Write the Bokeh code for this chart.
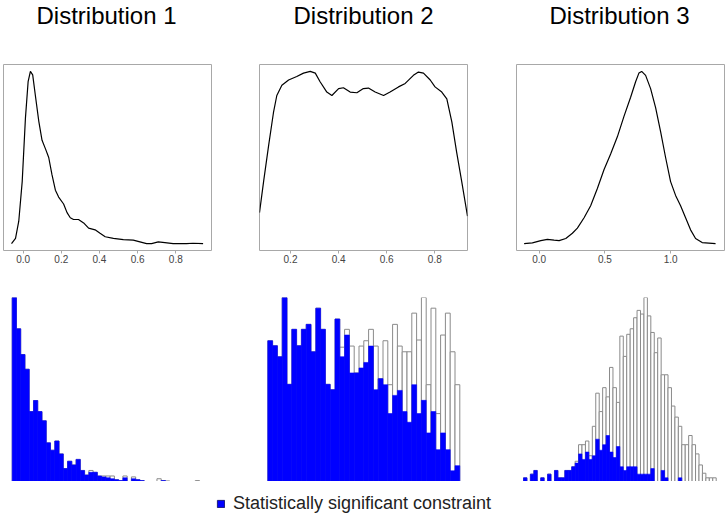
import numpy as np
from bokeh.plotting import figure
from bokeh.layouts import row, column
from bokeh.models import Range1d, FixedTicker, Legend, LegendItem, Label
from bokeh.embed import file_html
from bokeh.resources import INLINE

titles = ["Distribution 1", "Distribution 2", "Distribution 3"]
legend_label = "Statistically significant constraint"

# ---- density curves (relative density, peak = 1) ----
d1_x = [-0.061, -0.040, -0.023, -0.005, 0.012, 0.026, 0.038, 0.050, 0.064, 0.082, 0.099, 0.117,
        0.134, 0.151, 0.169, 0.186, 0.212, 0.230, 0.247, 0.264, 0.290, 0.317, 0.343, 0.377,
        0.403, 0.430, 0.473, 0.525, 0.577, 0.612, 0.647, 0.673, 0.708, 0.743, 0.786, 0.856,
        0.890, 0.943]
d1_y = [0.0, 0.03, 0.13, 0.36, 0.73, 0.94, 1.0, 0.98, 0.86, 0.71, 0.60, 0.55, 0.50, 0.40, 0.31,
        0.27, 0.23, 0.18, 0.15, 0.14, 0.14, 0.12, 0.09, 0.08, 0.06, 0.04, 0.03, 0.023, 0.02,
        0.01, 0.0, 0.0, 0.01, 0.006, 0.0, 0.0, 0.002, 0.0]

d2_x = [0.071, 0.088, 0.109, 0.129, 0.143, 0.164, 0.192, 0.226, 0.254, 0.282, 0.303, 0.323,
        0.351, 0.372, 0.400, 0.420, 0.448, 0.476, 0.503, 0.524, 0.552, 0.587, 0.614, 0.649,
        0.677, 0.711, 0.732, 0.753, 0.781, 0.801, 0.829, 0.850, 0.871, 0.891, 0.912, 0.936]
d2_y = [0.18, 0.36, 0.57, 0.76, 0.86, 0.92, 0.95, 0.97, 0.99, 1.0, 0.99, 0.94, 0.88, 0.86, 0.90,
        0.905, 0.88, 0.876, 0.90, 0.903, 0.88, 0.86, 0.88, 0.91, 0.93, 0.977, 0.996, 0.99, 0.95,
        0.91, 0.88, 0.84, 0.705, 0.53, 0.36, 0.16]

d3_x = [-0.114, -0.051, 0.013, 0.063, 0.114, 0.152, 0.203, 0.253, 0.291, 0.342, 0.392, 0.443,
        0.494, 0.544, 0.595, 0.646, 0.696, 0.734, 0.759, 0.780, 0.810, 0.848, 0.886, 0.924,
        0.962, 1.000, 1.038, 1.076, 1.114, 1.152, 1.190, 1.240, 1.342]
d3_y = [0.0, 0.004, 0.017, 0.025, 0.02, 0.017, 0.03, 0.06, 0.09, 0.15, 0.22, 0.32, 0.43, 0.52,
        0.62, 0.74, 0.85, 0.94, 0.99, 1.0, 0.977, 0.90, 0.79, 0.65, 0.50, 0.36, 0.28, 0.22,
        0.15, 0.08, 0.03, 0.006, 0.0]

d1_xlim = (-0.103, 0.987)
d2_xlim = (0.071, 0.936)
d3_xlim = (-0.172, 1.41)

ticks1 = [0.0, 0.2, 0.4, 0.6, 0.8]
ticks2 = [0.2, 0.4, 0.6, 0.8]
ticks3 = [0.0, 0.5, 1.0]
tick_labels1 = ["0.0", "0.2", "0.4", "0.6", "0.8"]
tick_labels2 = ["0.2", "0.4", "0.6", "0.8"]
tick_labels3 = ["0.0", "0.5", "1.0"]

# ---- histograms: all constraints (total) and significant ones ----
h1_start, h1_width = 0.0, 0.02
h1_total = [100, 83, 69, 61, 38, 44, 38, 33, 21, 17, 22, 15, 7, 11, 9, 12, 6, 3.5, 6, 5, 3, 3, 3, 3,
            1, 0.5, 3, 0, 2.5, 1, 0.5, 0, 0, 0, 1.5, 0.5, 0.3, 0, 0, 0, 0, 0, 0, 0.5, 0]
h1_sig = [100, 83, 69, 61, 38, 44, 38, 33, 21, 17, 22, 15, 7, 11, 9, 12, 6, 3.5, 5, 5, 3, 2.5, 2, 1.5,
          1, 0.5, 2, 0, 1.5, 1, 0.5, 0, 0, 0, 0, 0.5, 0, 0, 0, 0, 0, 0, 0, 0, 0]

h2_start, h2_width = 0.1, 0.02
h2_total = [76.5, 73.8, 67.8, 100, 52.8, 82.7, 73.8, 82.7, 85.4, 70.5, 94.2, 82.7, 52.8, 49.9,
            88.3, 73.0, 82.7, 73.6, 59.0, 73.6, 76.5, 82.7, 73.6, 55.9, 76.5, 52.6, 85.4, 73.6,
            70.5, 70.5, 91.5, 76.9, 100, 52.6, 94.2, 36.9, 79.6, 91.5, 70.5, 52.6]
h2_sig = [76.5, 73.8, 67.8, 100, 52.8, 82.7, 73.8, 82.7, 85.4, 70.5, 94.2, 82.7, 52.8, 49.9,
          88.3, 67.8, 79.6, 59.0, 59.0, 61.7, 64.7, 73.6, 49.9, 55.9, 52.6, 36.9, 46.8, 49.5,
          38.0, 32.2, 52.6, 36.9, 44.1, 26.4, 38.0, 17.3, 26.4, 17.3, 5.8, 8.6]

h3_start, h3_width = -0.1, 0.025
h3_total = [2, 0, 4, 6, 0, 2, 0, 4, 0, 6, 2, 2, 6, 6, 8, 11, 20, 20, 22, 14, 30, 48, 38, 51, 46,
            62, 51, 43, 79, 68, 80, 83, 89, 93, 91, 100, 90, 81, 70, 78, 58, 58, 51, 41, 35, 30,
            20, 20, 25, 20, 15, 9, 4.5, 2, 2, 2]
h3_sig = [2, 0, 4, 6, 0, 2, 0, 4, 0, 6, 2, 2, 6, 6, 8, 10, 15, 12, 16, 12, 14, 23, 17, 20, 25,
          16, 13, 19, 8, 6, 8, 8, 8, 4, 4, 4, 4, 7, 0, 0, 6, 2, 0, 0, 0, 2, 0, 0, 0, 0, 0, 0, 0,
          0, 0, 0]

BLUE = "#0000ff"
FONT = "Liberation Sans"
FW = 208  # frame width of each column


def title_fig(text, bl, br, dx):
    p = figure(frame_width=FW, height=30, min_border_left=bl, min_border_right=br,
               min_border_top=0, min_border_bottom=0,
               x_range=Range1d(0, 1), y_range=Range1d(0, 1),
               x_axis_location=None, y_axis_location=None,
               output_backend="svg", toolbar_location=None)
    p.grid.visible = False
    p.outline_line_color = None
    p.add_layout(Label(x=FW / 2 + dx, y=15, x_units="screen", y_units="screen",
                       text=text, text_align="center", text_baseline="middle",
                       text_font=FONT, text_font_size="24px", text_color="black"))
    return p


def density_fig(xs, ys, xlim, ticks, labels, bl, br):
    p = figure(frame_width=FW, frame_height=186, min_border_left=bl, min_border_right=br,
               min_border_top=34, min_border_bottom=30,
               x_range=Range1d(*xlim), y_range=Range1d(-0.04, 1.04),
               y_axis_location=None, output_backend="svg", toolbar_location=None)
    p.grid.visible = False
    p.outline_line_color = "#a8a8a8"
    p.outline_line_width = 1
    p.line(xs, ys, line_color="black", line_width=1.2)
    ax = p.xaxis[0]
    ax.ticker = FixedTicker(ticks=ticks)
    ax.major_label_overrides = {t: l for t, l in zip(ticks, labels)}
    ax.axis_line_color = None
    ax.major_tick_line_color = "#a8a8a8"
    ax.major_tick_out = 3
    ax.major_tick_in = 0
    ax.minor_tick_line_color = None
    ax.major_label_standoff = 1
    ax.major_label_text_font = FONT
    ax.major_label_text_font_size = "10px"
    ax.major_label_text_color = "#444444"
    return p


def hist_fig(start, width, total, sig, bl, br, pad_l, pad_r):
    n = len(total)
    edges = start + width * np.arange(n + 1)
    centers = (edges[:-1] + edges[1:]) / 2
    per_px = (edges[-1] - edges[0]) / (FW - pad_l - pad_r)
    p = figure(frame_width=FW, frame_height=184, min_border_left=bl, min_border_right=br,
               min_border_top=17, min_border_bottom=0,
               x_range=Range1d(edges[0] - pad_l * per_px, edges[-1] + pad_r * per_px),
               y_range=Range1d(0, max(total)),
               x_axis_location=None, y_axis_location=None,
               output_backend="svg", toolbar_location=None)
    p.grid.visible = False
    p.outline_line_color = None
    p.vbar(x=centers, top=total, width=width, fill_color="white", line_color="#8a8a8a",
           line_width=1)
    p.vbar(x=centers, top=sig, width=width, fill_color=BLUE, line_color=BLUE, line_width=0.6)
    return p, centers


t1 = title_fig(titles[0], 3, 4, -1)
t2 = title_fig(titles[1], 44, 28, 0)
t3 = title_fig(titles[2], 21, 3, -1)

den1 = density_fig(d1_x, d1_y, d1_xlim, ticks1, tick_labels1, 3, 4)
den2 = density_fig(d2_x, d2_y, d2_xlim, ticks2, tick_labels2, 44, 28)
den3 = density_fig(d3_x, d3_y, d3_xlim, ticks3, tick_labels3, 21, 3)

his1, _ = hist_fig(h1_start, h1_width, h1_total, h1_sig, 3, 4, 8.7, 7.7)
his2, c2 = hist_fig(h2_start, h2_width, h2_total, h2_sig, 44, 28, 8.3, 7.7)
his3, _ = hist_fig(h3_start, h3_width, h3_total, h3_sig, 21, 3, 7.0, 8.3)

# legend strip (its bar renderer carries the significant series, hidden)
lf = figure(width=727, height=44, x_range=Range1d(0, 1), y_range=Range1d(0, 1),
            x_axis_location=None, y_axis_location=None, min_border=0,
            output_backend="svg", toolbar_location=None)
lf.grid.visible = False
lf.outline_line_color = None
lr = lf.vbar(x=c2, top=h2_sig, width=h2_width, fill_color=BLUE, line_color="#1c1c7a",
             line_width=1, visible=False)
leg = Legend(items=[LegendItem(label=legend_label, renderers=[lr])], location=(216, 11))
leg.glyph_width = 9
leg.glyph_height = 9
leg.label_standoff = 8
leg.label_text_font = FONT
leg.label_text_font_size = "18px"
leg.label_text_color = "#222222"
leg.padding = 0
leg.margin = 0
leg.border_line_color = None
leg.background_fill_alpha = 0
lf.add_layout(leg)

layout = column(row(column(t1, den1, his1), column(t2, den2, his2), column(t3, den3, his3)), lf)

open("out.html", "w").write(file_html(layout, INLINE))
